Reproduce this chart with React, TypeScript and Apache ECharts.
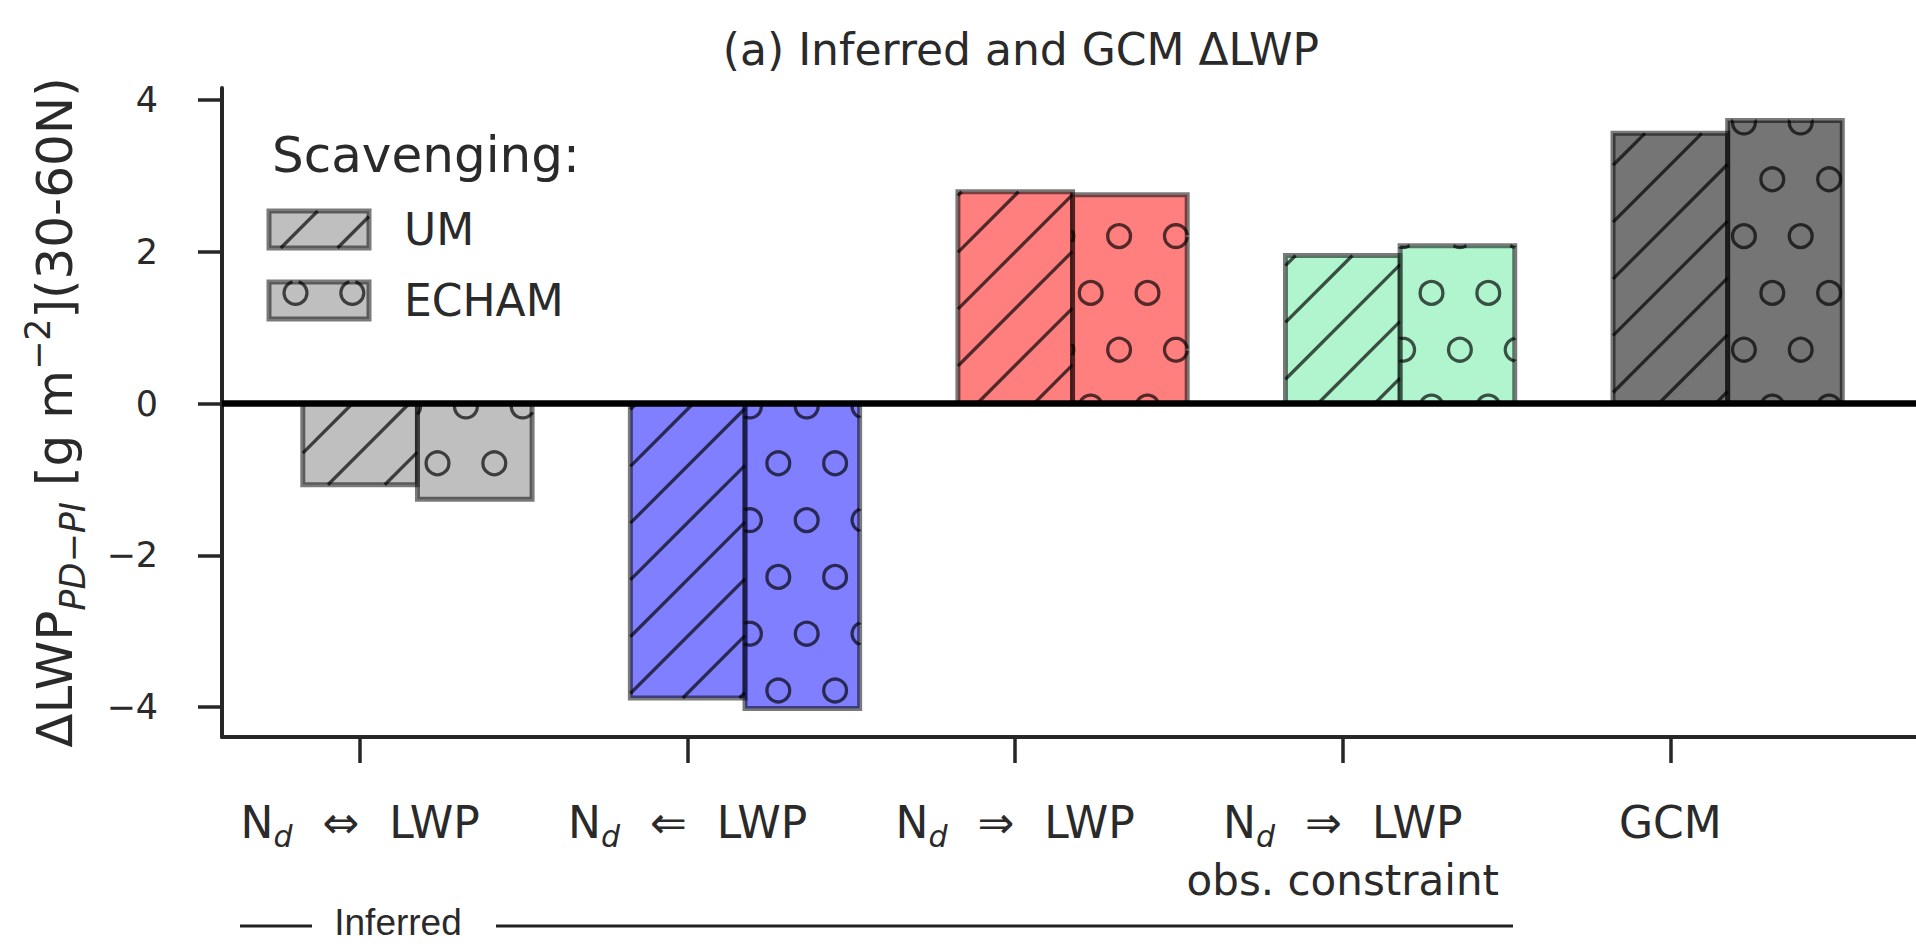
import React, { useEffect, useRef } from "react";
import * as echarts from "echarts";

// ---------------- data ----------------
const categoryArrows = ["⇔", "⇐", "⇒", "⇒", ""];
const categoryMain = ["LWP", "LWP", "LWP", "LWP", "GCM"];
const categorySecondLine = ["", "", "", "obs. constraint", ""];
const categoryIndex = [0, 1, 2, 3, 4];
const umValues = [-1.07, -3.88, 2.79, 1.95, 3.56];
const echamValues = [-1.26, -4.02, 2.75, 2.08, 3.73];
const yTicks = [-4, -2, 0, 2, 4];
const seriesNames = ["UM", "ECHAM"];

// ---------------- styles ----------------
const FONT = "'DejaVu Sans', sans-serif";
const TEXT = "#2a2a2a";
const AXIS = "#262626";
const barFills = [
  "rgba(128,128,128,0.5)",
  "rgba(0,0,255,0.5)",
  "rgba(255,0,0,0.5)",
  "rgba(100,235,160,0.5)",
  "rgba(0,0,0,0.54)",
];
const EDGE = "rgba(0,0,0,0.52)";
const HATCH = "rgba(0,0,0,0.68)";
const X_MIN = -0.4217;
const X_MAX = 4.75;
const Y_MIN = -4.394;
const Y_MAX = 4.157;
const BAR_W = 0.35;

// hatch pattern (screen-anchored like matplotlib)
const P = 56.8;
const LINE_C0 = 1096.7;
const ROW_Y0 = 463.3;
const COL_X_EVEN = 778.3;
const R = 11.4;
const HATCH_W = 3.3;

function hatchLines(x1: number, y1: number, x2: number, y2: number) {
  const els: any[] = [];
  const cMin = x1 + y1;
  const cMax = x2 + y2;
  const k0 = Math.ceil((cMin - LINE_C0) / P);
  for (let c = LINE_C0 + k0 * P; c <= cMax; c += P) {
    const xa = Math.max(x1, c - y2);
    const xb = Math.min(x2, c - y1);
    if (xb > xa + 0.5) {
      els.push({
        type: "line",
        shape: { x1: xa, y1: c - xa, x2: xb, y2: c - xb },
        style: { stroke: HATCH, lineWidth: HATCH_W, fill: "none" },
        silent: true,
      });
    }
  }
  return els;
}

function circleRuns(cx: number, cy: number, x1: number, y1: number, x2: number, y2: number) {
  const N = 72;
  const pts: number[][] = [];
  for (let i = 0; i < N; i++) {
    const t = (2 * Math.PI * i) / N;
    pts.push([cx + R * Math.cos(t), cy + R * Math.sin(t)]);
  }
  const inside = (p: number[]) => p[0] >= x1 && p[0] <= x2 && p[1] >= y1 && p[1] <= y2;
  const ins = pts.map(inside);
  if (ins.every((b) => b)) return { full: true, runs: [] as number[][][] };
  if (!ins.some((b) => b)) return { full: false, runs: [] as number[][][] };
  const clamp = (p: number[]) => [Math.min(Math.max(p[0], x1), x2), Math.min(Math.max(p[1], y1), y2)];
  const start = ins.findIndex((b) => !b);
  const runs: number[][][] = [];
  let cur: number[][] | null = null;
  for (let k = 1; k <= N; k++) {
    const i = (start + k) % N;
    const prev = (i - 1 + N) % N;
    if (ins[i]) {
      if (!cur) {
        cur = [clamp(pts[prev])];
      }
      cur.push(pts[i]);
    } else if (cur) {
      cur.push(clamp(pts[i]));
      runs.push(cur);
      cur = null;
    }
  }
  if (cur) runs.push(cur);
  return { full: false, runs };
}

function hatchCircles(x1: number, y1: number, x2: number, y2: number) {
  const els: any[] = [];
  const kMin = Math.floor((y1 - R - ROW_Y0) / P);
  const kMax = Math.ceil((y2 + R - ROW_Y0) / P);
  const st = { stroke: HATCH, lineWidth: HATCH_W, fill: "none" };
  for (let k = kMin; k <= kMax; k++) {
    const cy = ROW_Y0 + k * P;
    const phase = Math.abs(k % 2) === 1 ? COL_X_EVEN - P / 2 : COL_X_EVEN;
    const jMin = Math.floor((x1 - R - phase) / P);
    const jMax = Math.ceil((x2 + R - phase) / P);
    for (let j = jMin; j <= jMax; j++) {
      const cx = phase + j * P;
      const res = circleRuns(cx, cy, x1, y1, x2, y2);
      if (res.full) {
        els.push({ type: "circle", shape: { cx, cy, r: R }, style: st, silent: true });
      } else {
        res.runs.forEach((run) => {
          if (run.length > 1) els.push({ type: "polyline", shape: { points: run }, style: st, silent: true });
        });
      }
    }
  }
  return els;
}

function makeRenderItem(xLo: number, xHi: number, hatch: "lines" | "circles") {
  return (params: any, api: any) => {
    const ci = api.value(0);
    const v = api.value(1);
    const pA = api.coord([ci + xLo, v]);
    const pB = api.coord([ci + xHi, 0]);
    const x1 = Math.min(pA[0], pB[0]);
    const x2 = Math.max(pA[0], pB[0]);
    const y1 = Math.min(pA[1], pB[1]);
    const y2 = Math.max(pA[1], pB[1]);
    const shape = { x: x1, y: y1, width: x2 - x1, height: y2 - y1 };
    const hatchEls = hatch === "lines" ? hatchLines(x1, y1, x2, y2) : hatchCircles(x1, y1, x2, y2);
    return {
      type: "group",
      children: [
        { type: "rect", shape, style: { fill: barFills[params.dataIndex], stroke: "none" } },
        ...hatchEls,
        { type: "rect", shape, style: { fill: "none", stroke: EDGE, lineWidth: 5 } },
      ],
    };
  };
}

function legendPatch(x: number, y: number, w: number, h: number, hatch: "lines" | "circles") {
  const hatchEls = hatch === "lines" ? hatchLines(x, y, x + w, y + h) : hatchCircles(x, y, x + w, y + h);
  return [
    { type: "rect", shape: { x, y, width: w, height: h }, style: { fill: "rgba(128,128,128,0.5)", stroke: "none" } },
    ...hatchEls,
    { type: "rect", shape: { x, y, width: w, height: h }, style: { fill: "none", stroke: EDGE, lineWidth: 5 } },
  ];
}

function txt(text: string, x: number, y: number, size: number, align = "left", family = FONT) {
  return {
    type: "text",
    x,
    y,
    silent: true,
    style: {
      text,
      fontSize: size,
      fontFamily: family,
      fill: TEXT,
      align,
      verticalAlign: "middle",
    },
  };
}

export default function App() {
  const ref = useRef<HTMLDivElement>(null);

  useEffect(() => {
    if (!ref.current) return;
    const chart = echarts.init(ref.current, null, { renderer: "svg" });

    const xRich = {
      n: { fontSize: 44, fontFamily: FONT, color: TEXT, lineHeight: 58 },
      d: { fontSize: 30, fontFamily: FONT, fontStyle: "italic", color: TEXT, lineHeight: 30, verticalAlign: "bottom" },
      ar: { fontSize: 44, fontFamily: FONT, color: TEXT, lineHeight: 58, padding: [0, 30, 0, 30] },
      t: { fontSize: 44, fontFamily: FONT, color: TEXT, lineHeight: 58 },
      t2: { fontSize: 42, fontFamily: FONT, color: TEXT, lineHeight: 58 },
    };

    const option: any = {
      animation: false,
      backgroundColor: "#ffffff",
      grid: { left: 222, right: 0, top: 88, bottom: 211, containLabel: false, outerBoundsMode: "none" },
      xAxis: {
        type: "value",
        min: X_MIN,
        max: X_MAX,
        splitLine: { show: false },
        axisLine: { show: true, onZero: false, lineStyle: { color: AXIS, width: 4 } },
        axisTick: { show: true, length: 26, customValues: categoryIndex, lineStyle: { color: AXIS, width: 3.5 } },
        axisLabel: {
          show: true,
          customValues: categoryIndex,
          margin: 56,
          formatter: (value: number) => {
            const i = Math.round(value);
            if (!categoryArrows[i]) return `{t|${categoryMain[i]}}`;
            let s = `{n|N}{d|d}{ar|${categoryArrows[i]}}{t|${categoryMain[i]}}`;
            if (categorySecondLine[i]) s += `\n{t2|${categorySecondLine[i]}}`;
            return s;
          },
          rich: xRich,
        },
      },
      yAxis: {
        type: "value",
        min: Y_MIN,
        max: Y_MAX,
        splitLine: { show: false },
        axisLine: { show: true, onZero: false, lineStyle: { color: AXIS, width: 4 } },
        axisTick: { show: true, length: 24, customValues: yTicks, lineStyle: { color: AXIS, width: 3.5 } },
        axisLabel: {
          show: true,
          customValues: yTicks,
          margin: 64,
          fontSize: 35,
          fontFamily: FONT,
          color: TEXT,
          formatter: (v: number) => (v < 0 ? "\u2212" + Math.abs(v) : String(v)),
        },
        name: "{m|ΔLWP}{sub|PD\u2212PI}{m| [g m}{sup|\u22122}{m|](30-60N)}",
        nameLocation: "middle",
        nameRotate: 90,
        nameGap: 132,
        nameTextStyle: {
          rich: {
            m: { fontSize: 50, fontFamily: FONT, color: TEXT, lineHeight: 70 },
            sub: { fontSize: 35, fontFamily: FONT, fontStyle: "italic", color: TEXT, lineHeight: 38, verticalAlign: "bottom" },
            sup: { fontSize: 35, fontFamily: FONT, color: TEXT, lineHeight: 38, verticalAlign: "top" },
          },
        },
      },
      series: [
        {
          type: "custom",
          name: seriesNames[0],
          renderItem: makeRenderItem(-BAR_W / 2, BAR_W / 2, "lines"),
          data: categoryIndex.map((c, i) => [c, umValues[i]]),
          encode: { x: 0, y: 1 },
          z: 2,
        },
        {
          type: "custom",
          name: seriesNames[1],
          renderItem: makeRenderItem(BAR_W / 2, BAR_W * 1.5, "circles"),
          data: categoryIndex.map((c, i) => [c, echamValues[i]]),
          encode: { x: 0, y: 1 },
          z: 2,
        },
        {
          type: "line",
          name: "zero",
          data: [
            [X_MIN, 0],
            [X_MAX, 0],
          ],
          symbol: "none",
          silent: true,
          lineStyle: { color: "#000000", width: 6.5 },
          z: 5,
        },
      ],
      graphic: [
        txt("(a) Inferred and GCM ΔLWP", 1021, 49, 44, "center"),
        txt("Scavenging:", 272, 155, 50),
        ...legendPatch(269, 211, 100, 37, "lines"),
        txt(seriesNames[0], 404, 229, 44),
        ...legendPatch(269, 282, 100, 37, "circles"),
        txt(seriesNames[1], 404, 300, 44),
        {
          type: "line",
          silent: true,
          shape: { x1: 240, y1: 926, x2: 312, y2: 926 },
          style: { stroke: "#222", lineWidth: 3 },
        },
        {
          type: "line",
          silent: true,
          shape: { x1: 496, y1: 926, x2: 1513, y2: 926 },
          style: { stroke: "#222", lineWidth: 3 },
        },
        txt("Inferred", 398, 922, 37, "center", "'Liberation Sans Narrow', 'Liberation Sans', sans-serif"),
      ],
    };

    chart.setOption(option);
    return () => chart.dispose();
  }, []);

  return (
    <div
      ref={ref}
      style={{ position: "fixed", left: 0, top: 0, width: 1916, height: 948, background: "#fff" }}
    />
  );
}
